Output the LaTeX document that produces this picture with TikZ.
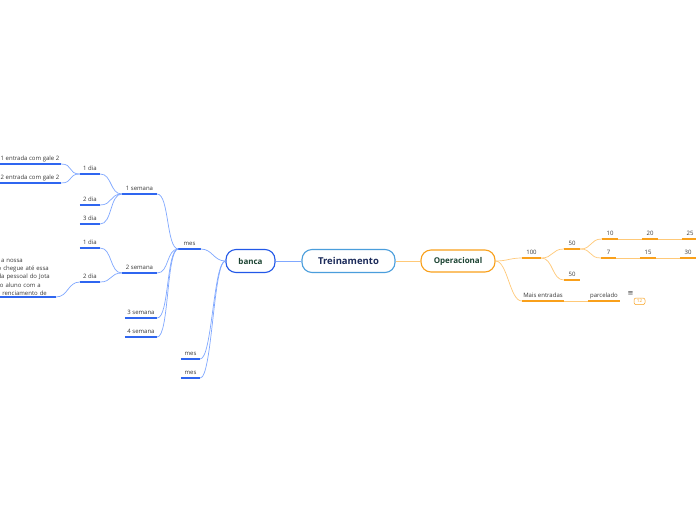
\documentclass[tikz,border=0pt]{standalone}
\usepackage{fontspec}
\setmainfont{Open Sans}
\newfontfamily\symfont{DejaVu Sans}
\usetikzlibrary{positioning}
\definecolor{blueul}{HTML}{2F66F0}
\definecolor{blueln}{HTML}{80A8FF}
\definecolor{bancaline}{HTML}{2258E8}
\definecolor{rootline}{HTML}{4A9EDC}
\definecolor{orangeul}{HTML}{F9A01B}
\definecolor{orangeln}{HTML}{FFC978}
\definecolor{deepgreen}{HTML}{1B4332}
\definecolor{navy}{HTML}{1C2B5A}
\definecolor{labelgray}{HTML}{383838}

\begin{document}
\begin{tikzpicture}[x=1pt, y=-1pt,
    topic/.style={draw=#1, line width=1.1pt, rounded corners=10pt, fill=white, inner sep=0pt, minimum height=23pt, font=\bfseries\fontsize{8}{9}\selectfont, text=deepgreen},
    subB/.style={inner sep=0pt, inner ysep=3pt, text depth=0pt, anchor=south, minimum width=#1, font=\fontsize{6}{8.2}\selectfont, text=labelgray,
      append after command={(\tikzlastnode.south west) edge[draw=blueul, line width=1.7pt] (\tikzlastnode.south east)}},
    subO/.style={inner sep=0pt, inner ysep=3pt, text depth=0pt, anchor=south, minimum width=#1, font=\fontsize{6}{8.2}\selectfont, text=labelgray,
      append after command={(\tikzlastnode.south west) edge[draw=orangeul, line width=1.7pt] (\tikzlastnode.south east)}},
    linkB/.style={draw=blueln, line width=.7pt},
    linkO/.style={draw=orangeln, line width=.7pt},
    toL/.style={to path={.. controls +(-12,0) and +(12,0) .. (\tikztotarget)}},
    toR/.style={to path={.. controls +(12,0) and +(-12,0) .. (\tikztotarget)}}
  ]
    \useasboundingbox (0,0) rectangle (696,520);
    \fill[white] (0,0) rectangle (696,520);

    % central topics
    \node[topic=rootline, font=\bfseries\fontsize{9.5}{11}\selectfont, text=navy, minimum width=93pt] (root) at (348.5,261) {Treinamento};
    \node[topic=bancaline, minimum width=49pt] (banca) at (250.5,261) {banca};
    \node[topic=orangeul, minimum width=74pt, minimum height=22pt] (oper) at (458,261) {Operacional};

    % banca side
    \node[subB=22pt] (mesA) at (189.5,249) {mes};
    \node[subB=19pt] (mesB) at (190.5,359) {mes};
    \node[subB=19pt] (mesC) at (190.5,378) {mes};
    \node[subB=35pt] (semA) at (139.5,194) {1 semana};
    \node[subB=35pt] (semB) at (139.5,273) {2 semana};
    \node[subB=32pt] (semC) at (141,318) {3 semana};
    \node[subB=32pt] (semD) at (141,337) {4 semana};
    \node[subB=20pt] (diaA1) at (90,174) {1 dia};
    \node[subB=20pt] (diaA2) at (90,205) {2 dia};
    \node[subB=20pt] (diaA3) at (90,224) {3 dia};
    \node[subB=20pt] (diaB1) at (90,248) {1 dia};
    \node[subB=20pt] (diaB2) at (90,282) {2 dia};
    \node[subB=62pt] (galeA) at (30,164) {1 entrada com gale 2};
    \node[subB=62pt] (galeB) at (30,183) {2 entrada com gale 2};
    \node[subB=106pt, anchor=south east, text depth=, text width=94pt, align=right, inner xsep=6pt, inner ysep=1.5pt] (nota) at (56,297)
      {a a nossa\rule{27pt}{0pt}\\o chegue até essa\rule{1pt}{0pt}\\da pessoal do Jota\\o aluno com a\rule{9pt}{0pt}\\renciamento de\rule{3pt}{0pt}};

    % Operacional side
    \node[subO=19pt] (cemA) at (531.5,258) {100};
    \node[subO=16pt] (cinqA) at (572,249) {50};
    \node[subO=16pt] (cinqB) at (572,280) {50};
    \node[subO=16pt] (dezA) at (610,239) {10};
    \node[subO=16pt] (vinte) at (650,239) {20};
    \node[subO=16pt] (vcinco) at (690,239) {25};
    \node[subO=15pt] (sete) at (608.5,258) {7};
    \node[subO=16pt] (quinze) at (648,258) {15};
    \node[subO=16pt] (trinta) at (688,258) {30};
    \node[subO=42pt] (mais) at (543,301) {Mais entradas};
    \node[subO=32pt] (parc) at (604,301) {parcelado};
    \node[inner sep=0pt, text=labelgray, font=\symfont\fontsize{7}{7}\selectfont] (noteic) at (630.5,294) {≡};
    \node[draw=orangeul, line width=.5pt, rounded corners=2pt, text=orangeul, font=\fontsize{4.5}{5}\selectfont, minimum width=11pt, minimum height=6.5pt, inner sep=0pt] (cnt) at (639.5,301.3) {12};

    % connectors
    \draw[linkB, line width=.9pt] (root.west) -- (banca.east);
    \draw[linkO, line width=.9pt] (root.east) -- (oper.west);

    \draw[linkB, toL] (banca.west) to (mesA.south east);
    \draw[linkB, toL] (banca.west) to (mesB.south east);
    \draw[linkB, toL] (banca.west) to (mesC.south east);
    \draw[linkB, toL] (mesA.south west) to (semA.south east);
    \draw[linkB, toL] (mesA.south west) to (semB.south east);
    \draw[linkB, toL] (mesA.south west) to (semC.south east);
    \draw[linkB, toL] (mesA.south west) to (semD.south east);
    \draw[linkB, toL] (semA.south west) to (diaA1.south east);
    \draw[linkB, toL] (semA.south west) to (diaA2.south east);
    \draw[linkB, toL] (semA.south west) to (diaA3.south east);
    \draw[linkB, toL] (diaA1.south west) to (galeA.south east);
    \draw[linkB, toL] (diaA1.south west) to (galeB.south east);
    \draw[linkB, toL] (semB.south west) to (diaB1.south east);
    \draw[linkB, toL] (semB.south west) to (diaB2.south east);
    \draw[linkB, toL] (diaB2.south west) to (nota.south east);

    \draw[linkO, toR] (oper.east) to (cemA.south west);
    \draw[linkO, toR] (oper.east) to (mais.south west);
    \draw[linkO, toR] (cemA.south east) to (cinqA.south west);
    \draw[linkO, toR] (cemA.south east) to (cinqB.south west);
    \draw[linkO, toR] (cinqA.south east) to (dezA.south west);
    \draw[linkO, toR] (cinqA.south east) to (sete.south west);
    \draw[linkO] (dezA.south east) -- (vinte.south west);
    \draw[linkO] (vinte.south east) -- (vcinco.south west);
    \draw[linkO] (sete.south east) -- (quinze.south west);
    \draw[linkO] (quinze.south east) -- (trinta.south west);
    \draw[linkO] (mais.south east) -- (parc.south west);
  \end{tikzpicture}
\end{document}
